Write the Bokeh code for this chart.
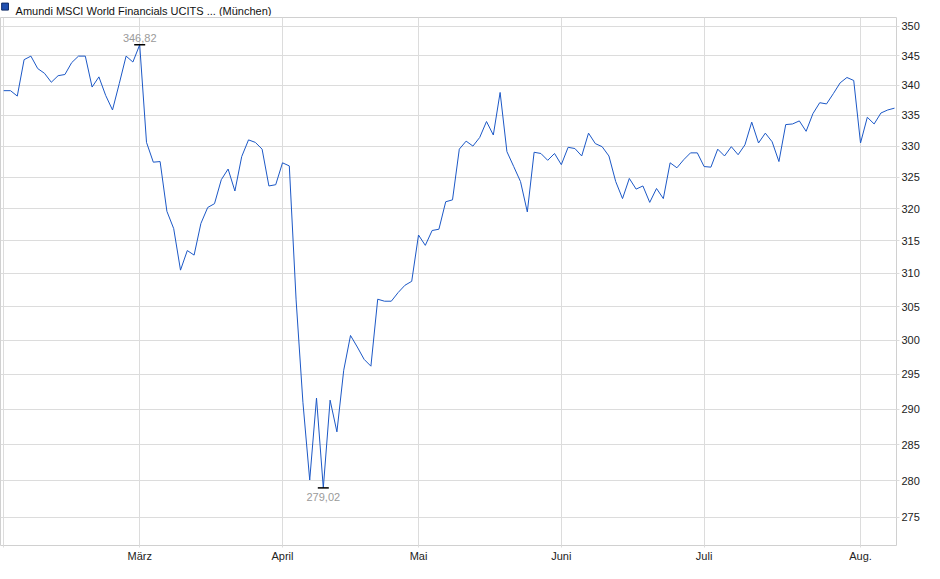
from bokeh.plotting import figure
from bokeh.layouts import column
from bokeh.models import Range1d, FixedTicker, PrintfTickFormatter, ColumnDataSource
from bokeh.embed import file_html
from bokeh.resources import INLINE
from bokeh.core.properties import value

# ---------------- data ----------------
titel = "Amundi MSCI World Financials UCITS ... (München)"

# closing prices per trading day (Feb 3 .. Aug 8)
kurs = [
    339.1, 339.1, 338.2, 344.3, 344.9, 342.8, 342.0, 340.5, 341.6, 341.8,
    343.8, 344.9, 344.9, 339.7, 341.4, 338.3, 335.9, 340.3, 344.9, 343.9,
    346.82, 330.6, 327.4, 327.5, 319.6, 316.9, 310.5, 313.5, 312.8, 317.7,
    320.2, 320.8, 324.6, 326.3, 322.8, 328.3, 331.0, 330.6, 329.5, 323.6,
    323.8, 327.3, 326.8, 306.0, 291.0, 280.1, 291.6, 279.02, 291.3, 286.8,
    295.6, 300.7, 299.0, 297.2, 296.2, 306.1, 305.8, 305.8, 307.1, 308.2,
    308.8, 315.9, 314.3, 316.6, 316.8, 321.1, 321.4, 329.5, 330.8, 330.0,
    331.4, 334.0, 331.8, 338.8, 329.1, 326.7, 324.3, 319.5, 329.0, 328.8,
    327.7, 328.8, 327.0, 329.8, 329.6, 328.4, 332.1, 330.4, 329.9, 328.4,
    324.3, 321.6, 324.8, 323.1, 323.6, 321.0, 323.2, 321.6, 327.3, 326.5,
    327.8, 328.9, 328.9, 326.7, 326.6, 329.5, 328.4, 329.9, 328.6, 330.2,
    333.9, 330.5, 332.1, 330.7, 327.5, 333.5, 333.6, 334.1, 332.4, 335.3,
    337.1, 336.9, 338.6, 340.4, 341.3, 340.8, 330.5, 334.7, 333.6, 335.4,
    335.9, 336.2,
]

# first trading day of each month (index into kurs) and its label
monat_index = [0, 20, 41, 61, 82, 103, 126]
monat_labels = ["", "März", "April", "Mai", "Juni", "Juli", "Aug."]

y_ticks = [275, 280, 285, 290, 295, 300, 305, 310, 315, 320, 325, 330, 335, 340, 345, 350]

# ---------------- styling ----------------
FONT = "Liberation Sans"
GRID = "#dcdcdc"
LINE = "#1c58c6"

# ---------------- header (legend swatch + name) ----------------
HEAD_W, HEAD_H = 900, 16
head = figure(width=HEAD_W, height=HEAD_H, output_backend="svg", toolbar_location=None,
              x_range=Range1d(0, HEAD_W), y_range=Range1d(0, HEAD_H),
              x_axis_type=None, y_axis_type=None,
              min_border_left=0, min_border_right=0, min_border_top=0, min_border_bottom=0,
              background_fill_color="white", border_fill_color="white")
head.outline_line_color = None
head.xgrid.visible = False
head.ygrid.visible = False
head.quad(left=[1.2], right=[8.2], bottom=[6.4], top=[13.4],
          fill_color="#1f4fb0", line_color="#0e2a66", line_width=1)
head.text(x=[15.5], y=[5.3], text=[titel], text_font=value(FONT), text_font_size="11px",
          text_color="#111111", text_align="left", text_baseline="alphabetic")

# ---------------- main chart ----------------
tage = list(range(len(kurs)))
src = ColumnDataSource(dict(x=tage, y=kurs))

p = figure(frame_width=896, frame_height=528,
           output_backend="svg", toolbar_location=None,
           y_axis_type="log", y_axis_location="right",
           x_range=Range1d(-0.47, 131.29), y_range=Range1d(271.24, 351.5),
           min_border_left=0, min_border_right=0, min_border_top=1, min_border_bottom=0,
           background_fill_color="white", border_fill_color="white")

p.outline_line_color = "#d0d0d0"

# grids
p.xgrid.ticker = FixedTicker(ticks=monat_index)
p.ygrid.ticker = FixedTicker(ticks=y_ticks)
p.xgrid.grid_line_color = GRID
p.ygrid.grid_line_color = GRID

# x axis
xa = p.xaxis[0]
xa.ticker = FixedTicker(ticks=monat_index)
xa.major_label_overrides = {i: l for i, l in zip(monat_index, monat_labels)}
xa.axis_line_color = None
xa.major_tick_out = 2
xa.major_tick_in = 0
xa.major_tick_line_color = GRID
xa.minor_tick_line_color = None
xa.major_label_standoff = 2
xa.major_label_text_font = FONT
xa.major_label_text_font_size = "11px"
xa.major_label_text_color = "#222222"

# y axis (right, log scale)
ya = p.yaxis[0]
ya.ticker = FixedTicker(ticks=y_ticks)
ya.formatter = PrintfTickFormatter(format="%d")
ya.axis_line_color = None
ya.major_tick_out = 3
ya.major_tick_in = 0
ya.major_tick_line_color = GRID
ya.minor_tick_line_color = None
ya.major_label_standoff = 2
ya.major_label_text_font = FONT
ya.major_label_text_font_size = "11px"
ya.major_label_text_color = "#222222"

# price line
p.line("x", "y", source=src, line_color=LINE, line_width=1.0)

# max / min markers
i_max = max(tage, key=lambda i: kurs[i])
i_min = min(tage, key=lambda i: kurs[i])
fmt = lambda v: f"{v:.2f}".replace(".", ",")

p.scatter(x=[i_max, i_min], y=[kurs[i_max], kurs[i_min]], marker="dash", size=11,
          line_color="black", line_width=1.5)
p.text(x=[i_max], y=[kurs[i_max]], text=[fmt(kurs[i_max])],
       text_font=value(FONT), text_font_size="11px", text_color="#9a9a9a",
       text_align="center", text_baseline="bottom", y_offset=-3)
p.text(x=[i_min], y=[kurs[i_min]], text=[fmt(kurs[i_min])],
       text_font=value(FONT), text_font_size="11px", text_color="#9a9a9a",
       text_align="center", text_baseline="top", y_offset=5)

layout = column(head, p, spacing=0)
open("out.html", "w").write(file_html(layout, INLINE))
